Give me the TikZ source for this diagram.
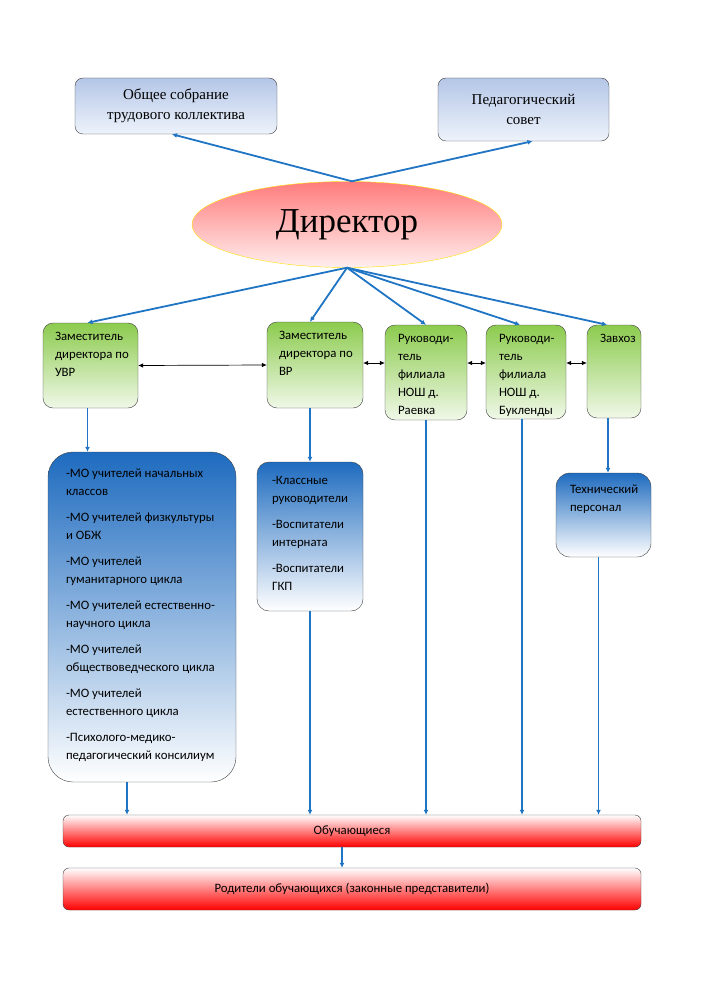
\documentclass[tikz,border=0pt]{standalone}
\usepackage{fontspec}
\setmainfont{Carlito}
\newfontfamily\serifru{Liberation Serif}
\usetikzlibrary{shapes.geometric,arrows.meta}

\definecolor{linkblue}{HTML}{1F75C4}
\definecolor{topblue}{HTML}{B4C6E7}
\definecolor{paleblue}{HTML}{EEF3FB}
\definecolor{greentop}{HTML}{8CCB4E}
\definecolor{greenbot}{HTML}{F0F8E8}
\definecolor{deepblue}{HTML}{1E6BBF}
\definecolor{rosetop}{HTML}{FF7C7C}
\definecolor{rosebot}{HTML}{FFEEEE}
\definecolor{rimyellow}{HTML}{FFE100}

\tikzset{
  every node/.style={font=\fontsize{12.8}{18}\selectfont},
  topbox/.style={draw=black!75, rounded corners=8pt, top color=topblue, bottom color=paleblue,
    align=center, font=\serifru\fontsize{15}{20}\selectfont},
  greenbox/.style={draw=black!75, rounded corners=10pt, top color=greentop, bottom color=greenbot},
  bluebox/.style={draw=black!75, top color=deepblue, bottom color=white},
  redbar/.style={draw=black!75, rounded corners=6pt, top color=white, middle color=red!80, bottom color=red},
  boxtext/.style={anchor=north west, align=left, inner sep=0pt, font=\fontsize{12.8}{18}\selectfont},
  link/.style={draw=linkblue, line width=1.8pt, -{Latex[length=5pt,width=5pt]}},
  pair/.style={black, line width=0.7pt, {Latex[length=5pt,width=4.5pt]}-{Latex[length=5pt,width=4.5pt]}}
}

\begin{document}
\begin{tikzpicture}[x=1pt,y=-1pt]
    \useasboundingbox (0,0) rectangle (707,1000);

    % Top level
    \node[topbox, minimum width=202pt, minimum height=56pt] (ob) at (176,106)
        {Общее собрание\\трудового коллектива};
    \node[topbox, minimum width=171pt, minimum height=63pt] (ped) at (523.5,109.5)
        {Педагогический\\совет};
    \node[ellipse, draw=rimyellow, top color=rosetop, bottom color=rosebot,
          minimum width=310pt, minimum height=86pt,
          font=\serifru\fontsize{35}{40}\selectfont] (dir) at (347,224.5) {Директор};

    % Deputies and heads
    \node[greenbox, minimum width=95pt, minimum height=85pt,
          label={[boxtext, xshift=12pt, yshift=-9pt]north west:Заместитель\\директора по\\УВР}] (uvr) at (90.5,365.5) {};
    \node[greenbox, minimum width=96pt, minimum height=86pt,
          label={[boxtext, xshift=12pt, yshift=-9pt]north west:Заместитель\\директора по\\ВР}] (vr) at (315,365) {};
    \node[greenbox, minimum width=82pt, minimum height=95pt,
          label={[boxtext, xshift=13pt, yshift=-9pt]north west:Руководи-\\тель\\филиала\\НОШ д.\\Раевка}] (rae) at (426,372.5) {};
    \node[greenbox, minimum width=80pt, minimum height=94pt,
          label={[boxtext, xshift=13pt, yshift=-9pt]north west:Руководи-\\тель\\филиала\\НОШ д.\\Букленды}] (buk) at (526,372) {};
    \node[greenbox, minimum width=54pt, minimum height=93pt,
          label={[boxtext, xshift=13pt, yshift=-9pt]north west:Завхоз}] (zav) at (614,371.5) {};

    % Third level
    \node[bluebox, rounded corners=25pt, minimum width=188pt, minimum height=330pt,
          label={[boxtext, xshift=18pt, yshift=-17pt]north west:-МО учителей начальных\\классов\\[8pt]
            -МО учителей физкультуры\\и ОБЖ\\[8pt]
            -МО учителей\\гуманитарного цикла\\[8pt]
            -МО учителей естественно-\\научного цикла\\[8pt]
            -МО учителей\\обществоведческого цикла\\[8pt]
            -МО учителей\\естественного цикла\\[8pt]
            -Психолого-медико-\\педагогический консилиум}] (mo) at (142,617) {};
    \node[bluebox, rounded corners=12pt, minimum width=106pt, minimum height=149pt,
          label={[boxtext, xshift=15pt, yshift=-14pt]north west:-Классные\\руководители\\[8pt]
            -Воспитатели\\интерната\\[8pt]
            -Воспитатели\\ГКП}] (kl) at (310,536.5) {};
    \node[bluebox, rounded corners=14pt, minimum width=95pt, minimum height=84pt,
          label={[boxtext, xshift=14pt, yshift=-12pt]north west:Технический\\персонал}] (tech) at (603.5,515) {};

    % Bottom bars
    \node[redbar, minimum width=578pt, minimum height=32pt] (obu) at (352,831) {Обучающиеся};
    \node[redbar, minimum width=578pt, minimum height=42pt] (rod) at (352,889)
        {Родители обучающихся (законные представители)};

    % Director links
    \draw[link] ([xshift=5pt]dir.north) -- ([xshift=-4pt]ob.south);
    \draw[link] ([xshift=5pt]dir.north) -- ([xshift=9pt]ped.south);
    \draw[link] (dir.south) -- ([xshift=-3pt]uvr.north);
    \draw[link] (dir.south) -- ([xshift=-5pt]vr.north);
    \draw[link] (dir.south) -- (rae.north);
    \draw[link] (dir.south) -- ([xshift=-6pt]buk.north);
    \draw[link] (dir.south) -- ([xshift=-7pt]zav.north);

    % Links between neighbours
    \draw[pair] (uvr.east) -- (vr.west);
    \draw[pair] ([yshift=2pt]vr.east) -- ([yshift=2pt]vr.east -| rae.west);
    \draw[pair] ([yshift=2pt]vr.east -| rae.east) -- ([yshift=2pt]vr.east -| buk.west);
    \draw[pair] ([yshift=2pt]vr.east -| buk.east) -- ([yshift=2pt]vr.east -| zav.west);

    % Down to the third level
    \draw[link] ([xshift=-3pt]uvr.south) -- ([xshift=-3pt]uvr.south |- mo.north);
    \draw[link] (kl.north |- vr.south) -- (kl.north);
    \draw[link] ([xshift=-6pt]zav.south) -- ([xshift=-6pt]zav.south |- tech.north);

    % Down to the pupils
    \draw[link] ([xshift=-15pt]mo.south) -- ([xshift=-15pt]mo.south |- obu.north);
    \draw[link] (kl.south) -- (kl.south |- obu.north);
    \draw[link] (rae.south) -- (rae.south |- obu.north);
    \draw[link] ([xshift=-4pt]buk.south) -- ([xshift=-4pt]buk.south |- obu.north);
    \draw[link] ([xshift=-5pt]tech.south) -- ([xshift=-5pt]tech.south |- obu.north);
    \draw[link] ([xshift=-10pt]obu.south) -- ([xshift=-10pt]rod.north);
\end{tikzpicture}
\end{document}
